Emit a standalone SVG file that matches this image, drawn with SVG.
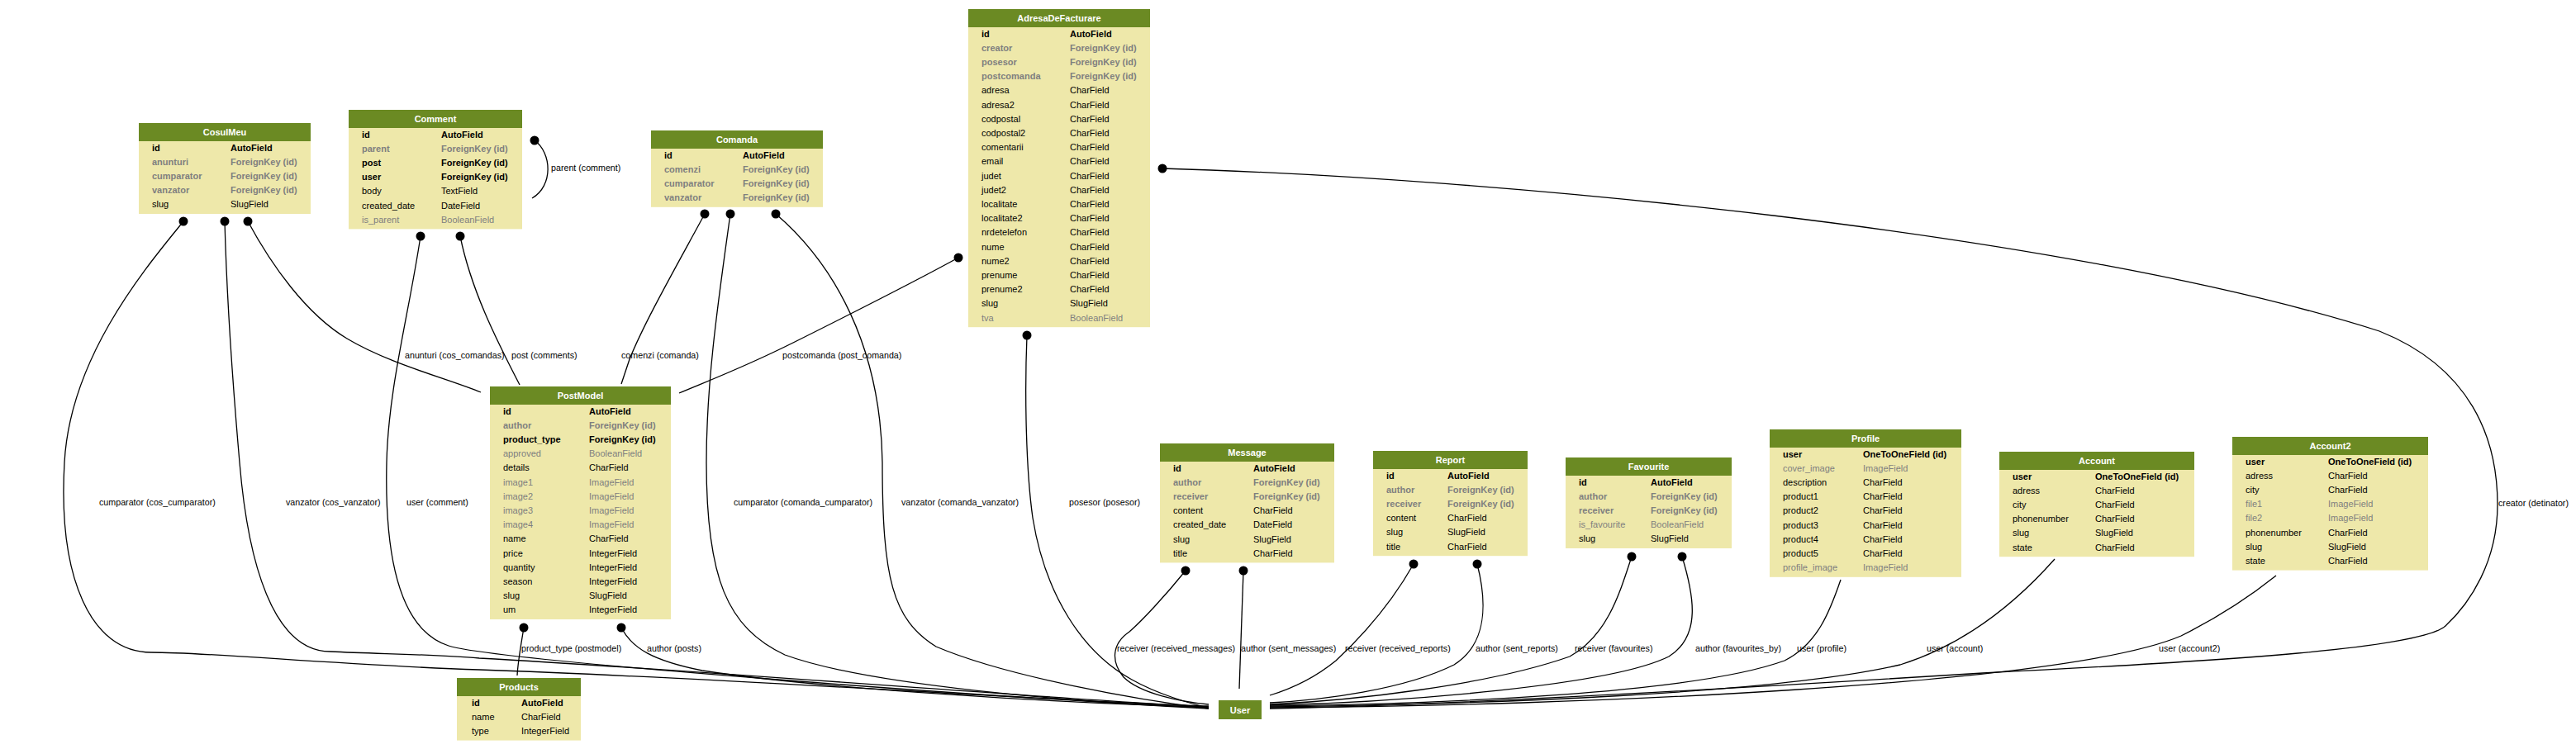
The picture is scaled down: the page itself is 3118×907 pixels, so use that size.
<svg xmlns="http://www.w3.org/2000/svg" width="3118" height="907" viewBox="0 0 3118 907">
<style>
text{font-family:"Liberation Sans",Arial,sans-serif;font-size:11px}
.bd{fill:#EEE8AA}
.hd{fill:#6B8A23}
.tt{fill:#fff;font-weight:bold;text-anchor:middle}
.n{fill:#000}
.b{fill:#000;font-weight:bold}
.g{fill:#7F7F7F}
.gb{fill:#7F7F7F;font-weight:bold}
.e path{fill:none;stroke:#000;stroke-width:1.3}
.e circle{fill:#000}
.lb{fill:#000;font-size:10.7px}
</style>
<rect width="3118" height="907" fill="#fff"/>

<g id="connectors" class="e">
<!-- self loop -->
<path d="M647,170 C668,185 670,225 644,240"/>
<circle cx="647" cy="170" r="5.5"/>
<!-- CosulMeu -->
<path d="M222,268 C180,320 85,430 78,560 C70,700 110,790 183,790 C260,790 400,805 580,811 C900,822 1250,848 1463,855"/>
<circle cx="222" cy="268" r="5.5"/>
<path d="M272,268 C275,380 283,480 290,560 C300,680 330,789 400,789 C460,792 520,792 580,797 C900,815 1250,845 1463,856"/>
<circle cx="272" cy="268" r="5.5"/>
<path d="M300,268 C328,320 370,380 420,410 C470,440 540,458 582,475"/>
<circle cx="300" cy="268" r="5.5"/>
<!-- Comment -->
<path d="M509,286 C495,380 470,470 468,560 C465,690 490,765 543,782 C600,800 1200,845 1463,857"/>
<circle cx="509" cy="286" r="5.5"/>
<path d="M557,286 C570,350 600,410 629,466"/>
<circle cx="557" cy="286" r="5.5"/>
<!-- Comanda -->
<path d="M853,259 C820,320 780,390 762,435 L752,465"/>
<circle cx="853" cy="259" r="5.5"/>
<path d="M884,259 C870,360 855,460 855,560 C855,700 880,760 950,793 C1050,830 1300,850 1463,858"/>
<circle cx="884" cy="259" r="5.5"/>
<path d="M939,259 C1010,320 1066,420 1068,560 C1068,700 1080,750 1133,783 C1220,820 1380,848 1463,858"/>
<circle cx="939" cy="259" r="5.5"/>
<!-- AdresaDeFacturare -->
<path d="M1160,312 C1100,345 1020,385 960,415 C900,445 860,460 822,476"/>
<circle cx="1160" cy="312" r="5.5"/>
<path d="M1243,406 C1240,480 1242,570 1250,627 C1265,720 1310,790 1370,823 C1400,840 1440,852 1463,857"/>
<circle cx="1243" cy="406" r="5.5"/>
<path d="M1407,204 C1800,215 2500,280 2880,401 C2990,445 3023,530 3023,611 C3023,680 2990,730 2960,758 C2930,785 2700,800 2400,815 C2000,840 1700,855 1537,858"/>
<circle cx="1407" cy="204" r="5.5"/>
<!-- PostModel -->
<path d="M634,760 C630,785 627,800 626,818"/>
<circle cx="634" cy="760" r="5.5"/>
<path d="M752,760 C765,785 790,800 850,812 C1000,835 1300,852 1463,856"/>
<circle cx="752" cy="760" r="5.5"/>
<!-- Message -->
<path d="M1435,691 C1410,722 1382,752 1367,765 C1345,780 1345,802 1360,820 C1380,840 1430,850 1463,853"/>
<circle cx="1435" cy="691" r="5.5"/>
<path d="M1505,691 L1500,834"/>
<circle cx="1505" cy="691" r="5.5"/>
<!-- Report -->
<path d="M1711,683 C1690,720 1660,760 1617,800 C1590,822 1560,835 1537,842"/>
<circle cx="1711" cy="683" r="5.5"/>
<path d="M1788,683 C1800,730 1800,780 1760,805 C1700,835 1600,848 1537,851"/>
<circle cx="1788" cy="683" r="5.5"/>
<!-- Favourite -->
<path d="M1975,674 C1960,720 1945,770 1900,795 C1800,830 1640,848 1537,853"/>
<circle cx="1975" cy="674" r="5.5"/>
<path d="M2036,674 C2050,720 2060,770 2020,795 C1950,830 1700,850 1537,854"/>
<circle cx="2036" cy="674" r="5.5"/>
<!-- Profile / Account / Account2 -->
<path d="M2228,702 C2215,740 2200,780 2160,800 C2050,840 1750,852 1537,855"/>
<path d="M2487,677 C2440,730 2380,780 2300,805 C2150,840 1800,853 1537,856"/>
<path d="M2755,697 C2720,725 2680,750 2640,770 C2500,830 1900,855 1537,857"/>
</g>

<g id="labels">
<text class="lb" x="667" y="207">parent (comment)</text>
<text class="lb" x="490" y="434">anunturi (cos_comandas)</text>
<text class="lb" x="619" y="434">post (comments)</text>
<text class="lb" x="752" y="434">comenzi (comanda)</text>
<text class="lb" x="947" y="434">postcomanda (post_comanda)</text>
<text class="lb" x="120" y="612">cumparator (cos_cumparator)</text>
<text class="lb" x="346" y="612">vanzator (cos_vanzator)</text>
<text class="lb" x="492" y="612">user (comment)</text>
<text class="lb" x="888" y="612">cumparator (comanda_cumparator)</text>
<text class="lb" x="1091" y="612">vanzator (comanda_vanzator)</text>
<text class="lb" x="1294" y="612">posesor (posesor)</text>
<text class="lb" x="3024" y="613">creator (detinator)</text>
<text class="lb" x="631" y="789">product_type (postmodel)</text>
<text class="lb" x="783" y="789">author (posts)</text>
<text class="lb" x="1352" y="789">receiver (received_messages)</text>
<text class="lb" x="1502" y="789">author (sent_messages)</text>
<text class="lb" x="1628" y="789">receiver (received_reports)</text>
<text class="lb" x="1786" y="789">author (sent_reports)</text>
<text class="lb" x="1906" y="789">receiver (favourites)</text>
<text class="lb" x="2052" y="789">author (favourites_by)</text>
<text class="lb" x="2175" y="789">user (profile)</text>
<text class="lb" x="2332" y="789">user (account)</text>
<text class="lb" x="2613" y="789">user (account2)</text>
</g>

<g id="CosulMeu" transform="translate(168,149)">
<rect class="bd" width="208" height="110"/><rect class="hd" width="208" height="22"/>
<text class="tt" x="104" y="15">CosulMeu</text>
<text class="b" x="16" y="33.5">id</text><text class="b" x="111" y="33.5">AutoField</text>
<text class="gb" x="16" y="50.7">anunturi</text><text class="gb" x="111" y="50.7">ForeignKey (id)</text>
<text class="gb" x="16" y="67.9">cumparator</text><text class="gb" x="111" y="67.9">ForeignKey (id)</text>
<text class="gb" x="16" y="85.1">vanzator</text><text class="gb" x="111" y="85.1">ForeignKey (id)</text>
<text class="n" x="16" y="102.3">slug</text><text class="n" x="111" y="102.3">SlugField</text>
</g>

<g id="Comment" transform="translate(422,133)">
<rect class="bd" width="210" height="144.4"/><rect class="hd" width="210" height="22"/>
<text class="tt" x="105" y="15">Comment</text>
<text class="b" x="16" y="33.5">id</text><text class="b" x="112" y="33.5">AutoField</text>
<text class="gb" x="16" y="50.7">parent</text><text class="gb" x="112" y="50.7">ForeignKey (id)</text>
<text class="b" x="16" y="67.9">post</text><text class="b" x="112" y="67.9">ForeignKey (id)</text>
<text class="b" x="16" y="85.1">user</text><text class="b" x="112" y="85.1">ForeignKey (id)</text>
<text class="n" x="16" y="102.3">body</text><text class="n" x="112" y="102.3">TextField</text>
<text class="n" x="16" y="119.5">created_date</text><text class="n" x="112" y="119.5">DateField</text>
<text class="g" x="16" y="136.7">is_parent</text><text class="g" x="112" y="136.7">BooleanField</text>
</g>

<g id="Comanda" transform="translate(788,158)">
<rect class="bd" width="208" height="92.8"/><rect class="hd" width="208" height="22"/>
<text class="tt" x="104" y="15">Comanda</text>
<text class="b" x="16" y="33.5">id</text><text class="b" x="111" y="33.5">AutoField</text>
<text class="gb" x="16" y="50.7">comenzi</text><text class="gb" x="111" y="50.7">ForeignKey (id)</text>
<text class="gb" x="16" y="67.9">cumparator</text><text class="gb" x="111" y="67.9">ForeignKey (id)</text>
<text class="gb" x="16" y="85.1">vanzator</text><text class="gb" x="111" y="85.1">ForeignKey (id)</text>
</g>

<g id="AdresaDeFacturare" transform="translate(1172,11)">
<rect class="bd" width="220" height="385.2"/><rect class="hd" width="220" height="22"/>
<text class="tt" x="110" y="15">AdresaDeFacturare</text>
<text class="b" x="16" y="33.5">id</text><text class="b" x="123" y="33.5">AutoField</text>
<text class="gb" x="16" y="50.7">creator</text><text class="gb" x="123" y="50.7">ForeignKey (id)</text>
<text class="gb" x="16" y="67.9">posesor</text><text class="gb" x="123" y="67.9">ForeignKey (id)</text>
<text class="gb" x="16" y="85.1">postcomanda</text><text class="gb" x="123" y="85.1">ForeignKey (id)</text>
<text class="n" x="16" y="102.3">adresa</text><text class="n" x="123" y="102.3">CharField</text>
<text class="n" x="16" y="119.5">adresa2</text><text class="n" x="123" y="119.5">CharField</text>
<text class="n" x="16" y="136.7">codpostal</text><text class="n" x="123" y="136.7">CharField</text>
<text class="n" x="16" y="153.9">codpostal2</text><text class="n" x="123" y="153.9">CharField</text>
<text class="n" x="16" y="171.1">comentarii</text><text class="n" x="123" y="171.1">CharField</text>
<text class="n" x="16" y="188.3">email</text><text class="n" x="123" y="188.3">CharField</text>
<text class="n" x="16" y="205.5">judet</text><text class="n" x="123" y="205.5">CharField</text>
<text class="n" x="16" y="222.7">judet2</text><text class="n" x="123" y="222.7">CharField</text>
<text class="n" x="16" y="239.9">localitate</text><text class="n" x="123" y="239.9">CharField</text>
<text class="n" x="16" y="257.1">localitate2</text><text class="n" x="123" y="257.1">CharField</text>
<text class="n" x="16" y="274.3">nrdetelefon</text><text class="n" x="123" y="274.3">CharField</text>
<text class="n" x="16" y="291.5">nume</text><text class="n" x="123" y="291.5">CharField</text>
<text class="n" x="16" y="308.7">nume2</text><text class="n" x="123" y="308.7">CharField</text>
<text class="n" x="16" y="325.9">prenume</text><text class="n" x="123" y="325.9">CharField</text>
<text class="n" x="16" y="343.1">prenume2</text><text class="n" x="123" y="343.1">CharField</text>
<text class="n" x="16" y="360.3">slug</text><text class="n" x="123" y="360.3">SlugField</text>
<text class="g" x="16" y="377.5">tva</text><text class="g" x="123" y="377.5">BooleanField</text>
</g>

<g id="PostModel" transform="translate(593,468)">
<rect class="bd" width="219" height="282"/><rect class="hd" width="219" height="22"/>
<text class="tt" x="109.5" y="15">PostModel</text>
<text class="b" x="16" y="33.5">id</text><text class="b" x="120" y="33.5">AutoField</text>
<text class="gb" x="16" y="50.7">author</text><text class="gb" x="120" y="50.7">ForeignKey (id)</text>
<text class="b" x="16" y="67.9">product_type</text><text class="b" x="120" y="67.9">ForeignKey (id)</text>
<text class="g" x="16" y="85.1">approved</text><text class="g" x="120" y="85.1">BooleanField</text>
<text class="n" x="16" y="102.3">details</text><text class="n" x="120" y="102.3">CharField</text>
<text class="g" x="16" y="119.5">image1</text><text class="g" x="120" y="119.5">ImageField</text>
<text class="g" x="16" y="136.7">image2</text><text class="g" x="120" y="136.7">ImageField</text>
<text class="g" x="16" y="153.9">image3</text><text class="g" x="120" y="153.9">ImageField</text>
<text class="g" x="16" y="171.1">image4</text><text class="g" x="120" y="171.1">ImageField</text>
<text class="n" x="16" y="188.3">name</text><text class="n" x="120" y="188.3">CharField</text>
<text class="n" x="16" y="205.5">price</text><text class="n" x="120" y="205.5">IntegerField</text>
<text class="n" x="16" y="222.7">quantity</text><text class="n" x="120" y="222.7">IntegerField</text>
<text class="n" x="16" y="239.9">season</text><text class="n" x="120" y="239.9">IntegerField</text>
<text class="n" x="16" y="257.1">slug</text><text class="n" x="120" y="257.1">SlugField</text>
<text class="n" x="16" y="274.3">um</text><text class="n" x="120" y="274.3">IntegerField</text>
</g>

<g id="Products" transform="translate(553,821)">
<rect class="bd" width="150" height="75.6"/><rect class="hd" width="150" height="22"/>
<text class="tt" x="75" y="15">Products</text>
<text class="b" x="18" y="33.5">id</text><text class="b" x="78" y="33.5">AutoField</text>
<text class="n" x="18" y="50.7">name</text><text class="n" x="78" y="50.7">CharField</text>
<text class="n" x="18" y="67.9">type</text><text class="n" x="78" y="67.9">IntegerField</text>
</g>

<g id="Message" transform="translate(1404,537)">
<rect class="bd" width="211" height="144.4"/><rect class="hd" width="211" height="22"/>
<text class="tt" x="105.5" y="15">Message</text>
<text class="b" x="16" y="33.5">id</text><text class="b" x="113" y="33.5">AutoField</text>
<text class="gb" x="16" y="50.7">author</text><text class="gb" x="113" y="50.7">ForeignKey (id)</text>
<text class="gb" x="16" y="67.9">receiver</text><text class="gb" x="113" y="67.9">ForeignKey (id)</text>
<text class="n" x="16" y="85.1">content</text><text class="n" x="113" y="85.1">CharField</text>
<text class="n" x="16" y="102.3">created_date</text><text class="n" x="113" y="102.3">DateField</text>
<text class="n" x="16" y="119.5">slug</text><text class="n" x="113" y="119.5">SlugField</text>
<text class="n" x="16" y="136.7">title</text><text class="n" x="113" y="136.7">CharField</text>
</g>

<g id="Report" transform="translate(1662,546)">
<rect class="bd" width="187" height="127.2"/><rect class="hd" width="187" height="22"/>
<text class="tt" x="93.5" y="15">Report</text>
<text class="b" x="16" y="33.5">id</text><text class="b" x="90" y="33.5">AutoField</text>
<text class="gb" x="16" y="50.7">author</text><text class="gb" x="90" y="50.7">ForeignKey (id)</text>
<text class="gb" x="16" y="67.9">receiver</text><text class="gb" x="90" y="67.9">ForeignKey (id)</text>
<text class="n" x="16" y="85.1">content</text><text class="n" x="90" y="85.1">CharField</text>
<text class="n" x="16" y="102.3">slug</text><text class="n" x="90" y="102.3">SlugField</text>
<text class="n" x="16" y="119.5">title</text><text class="n" x="90" y="119.5">CharField</text>
</g>

<g id="Favourite" transform="translate(1895,554)">
<rect class="bd" width="201" height="110"/><rect class="hd" width="201" height="22"/>
<text class="tt" x="100.5" y="15">Favourite</text>
<text class="b" x="16" y="33.5">id</text><text class="b" x="103" y="33.5">AutoField</text>
<text class="gb" x="16" y="50.7">author</text><text class="gb" x="103" y="50.7">ForeignKey (id)</text>
<text class="gb" x="16" y="67.9">receiver</text><text class="gb" x="103" y="67.9">ForeignKey (id)</text>
<text class="g" x="16" y="85.1">is_favourite</text><text class="g" x="103" y="85.1">BooleanField</text>
<text class="n" x="16" y="102.3">slug</text><text class="n" x="103" y="102.3">SlugField</text>
</g>

<g id="Profile" transform="translate(2142,520)">
<rect class="bd" width="232" height="178.8"/><rect class="hd" width="232" height="22"/>
<text class="tt" x="116" y="15">Profile</text>
<text class="b" x="16" y="33.5">user</text><text class="b" x="113" y="33.5">OneToOneField (id)</text>
<text class="g" x="16" y="50.7">cover_image</text><text class="g" x="113" y="50.7">ImageField</text>
<text class="n" x="16" y="67.9">description</text><text class="n" x="113" y="67.9">CharField</text>
<text class="n" x="16" y="85.1">product1</text><text class="n" x="113" y="85.1">CharField</text>
<text class="n" x="16" y="102.3">product2</text><text class="n" x="113" y="102.3">CharField</text>
<text class="n" x="16" y="119.5">product3</text><text class="n" x="113" y="119.5">CharField</text>
<text class="n" x="16" y="136.7">product4</text><text class="n" x="113" y="136.7">CharField</text>
<text class="n" x="16" y="153.9">product5</text><text class="n" x="113" y="153.9">CharField</text>
<text class="g" x="16" y="171.1">profile_image</text><text class="g" x="113" y="171.1">ImageField</text>
</g>

<g id="Account" transform="translate(2420,547)">
<rect class="bd" width="236" height="127.2"/><rect class="hd" width="236" height="22"/>
<text class="tt" x="118" y="15">Account</text>
<text class="b" x="16" y="33.5">user</text><text class="b" x="116" y="33.5">OneToOneField (id)</text>
<text class="n" x="16" y="50.7">adress</text><text class="n" x="116" y="50.7">CharField</text>
<text class="n" x="16" y="67.9">city</text><text class="n" x="116" y="67.9">CharField</text>
<text class="n" x="16" y="85.1">phonenumber</text><text class="n" x="116" y="85.1">CharField</text>
<text class="n" x="16" y="102.3">slug</text><text class="n" x="116" y="102.3">SlugField</text>
<text class="n" x="16" y="119.5">state</text><text class="n" x="116" y="119.5">CharField</text>
</g>

<g id="Account2" transform="translate(2702,529)">
<rect class="bd" width="237" height="161.6"/><rect class="hd" width="237" height="22"/>
<text class="tt" x="118.5" y="15">Account2</text>
<text class="b" x="16" y="33.5">user</text><text class="b" x="116" y="33.5">OneToOneField (id)</text>
<text class="n" x="16" y="50.7">adress</text><text class="n" x="116" y="50.7">CharField</text>
<text class="n" x="16" y="67.9">city</text><text class="n" x="116" y="67.9">CharField</text>
<text class="g" x="16" y="85.1">file1</text><text class="g" x="116" y="85.1">ImageField</text>
<text class="g" x="16" y="102.3">file2</text><text class="g" x="116" y="102.3">ImageField</text>
<text class="n" x="16" y="119.5">phonenumber</text><text class="n" x="116" y="119.5">CharField</text>
<text class="n" x="16" y="136.7">slug</text><text class="n" x="116" y="136.7">SlugField</text>
<text class="n" x="16" y="153.9">state</text><text class="n" x="116" y="153.9">CharField</text>
</g>

<g id="User" transform="translate(1475,848)">
<rect class="hd" width="52" height="23"/>
<text class="tt" x="26" y="15.5">User</text>
</g>
</svg>
